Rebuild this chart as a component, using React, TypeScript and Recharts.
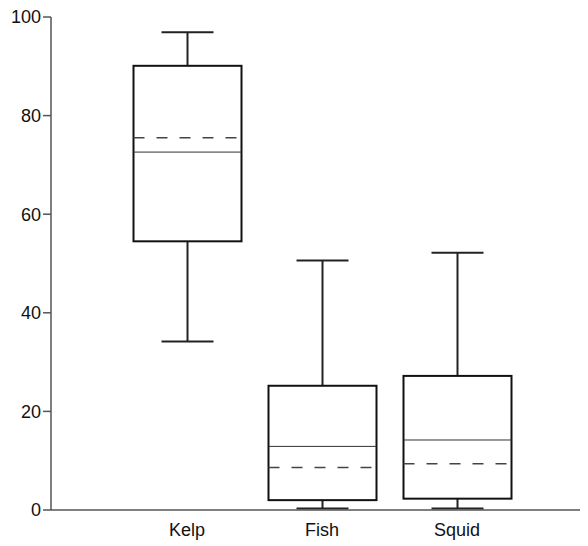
import { ComposedChart, Bar, XAxis, YAxis } from 'recharts'

const categories = ['Kelp', 'Fish', 'Squid']
const mins = [34.2, 0.3, 0.3]
const q1s = [54.5, 2.0, 2.3]
const medians = [72.6, 12.9, 14.2]
const means = [75.5, 8.6, 9.4]
const q3s = [90.1, 25.2, 27.2]
const maxs = [96.9, 50.6, 52.2]
const yTicks = [0, 20, 40, 60, 80, 100]

const data = categories.map((name, i) => ({
  name,
  min: mins[i],
  q1: q1s[i],
  median: medians[i],
  mean: means[i],
  q3: q3s[i],
  max: maxs[i],
}))

const font = '"Liberation Sans", Arial, sans-serif'

// the bar spans min..max; everything else is placed on the same linear scale
const BoxShape = (props: any) => {
  const { x, y, width, height, payload } = props
  if (!payload) return null
  const { min, q1, median, mean, q3, max } = payload
  const toY = (v: number) => y + ((max - v) * height) / (max - min)
  const cx = x + width / 2
  const cap = 26
  return (
    <g>
      <line x1={cx} x2={cx} y1={toY(max)} y2={toY(q3)} stroke="#222" strokeWidth={2} />
      <line x1={cx} x2={cx} y1={toY(q1)} y2={toY(min)} stroke="#222" strokeWidth={2} />
      <line x1={cx - cap} x2={cx + cap} y1={toY(max)} y2={toY(max)} stroke="#222" strokeWidth={2} />
      <line x1={cx - cap} x2={cx + cap} y1={toY(min)} y2={toY(min)} stroke="#222" strokeWidth={2} />
      <rect
        x={x}
        y={toY(q3)}
        width={width}
        height={toY(q1) - toY(q3)}
        fill="none"
        stroke="#111"
        strokeWidth={2}
      />
      <line x1={x} x2={x + width} y1={toY(median)} y2={toY(median)} stroke="#333" strokeWidth={1} />
      <line
        x1={x}
        x2={x + width}
        y1={toY(mean)}
        y2={toY(mean)}
        stroke="#444"
        strokeWidth={1.5}
        strokeDasharray="11 12"
      />
    </g>
  )
}

export default function App() {
  return (
    <div style={{ width: 580, height: 538, overflow: 'hidden' }}>
      <ComposedChart
        width={588}
        height={538}
        data={data}
        margin={{ top: 9, right: 3, bottom: 0, left: 0 }}
      >
        <XAxis
          dataKey="name"
          height={36}
          padding={{ left: 68.5, right: 68.5 }}
          tickLine={false}
          tickMargin={7}
          stroke="#555"
          strokeWidth={1.5}
          tick={{ fill: '#111', fontSize: 18, fontFamily: font }}
        />
        <YAxis
          width={43}
          domain={[0, 100]}
          ticks={yTicks}
          interval={0}
          tickSize={8}
          tickMargin={2}
          stroke="#555"
          strokeWidth={1.5}
          tick={{ fill: '#111', fontSize: 18, fontFamily: font }}
        />
        <Bar
          dataKey={(d: any) => [d.min, d.max]}
          barSize={108}
          shape={<BoxShape />}
          isAnimationActive={false}
        />
      </ComposedChart>
    </div>
  )
}
